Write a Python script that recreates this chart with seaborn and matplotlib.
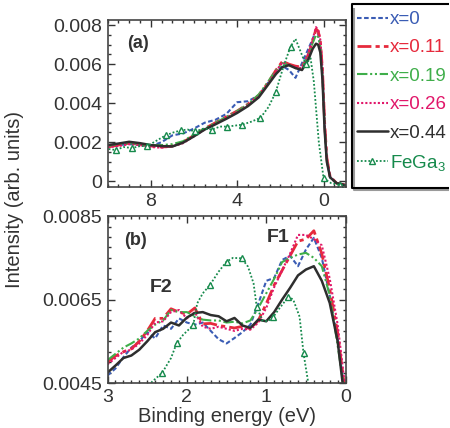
import numpy as np
import matplotlib
matplotlib.use('Agg')
import matplotlib.pyplot as plt
import seaborn as sns
from matplotlib.ticker import MultipleLocator
from matplotlib.lines import Line2D

# ---- data, intensities in units of 1e-3 ----
# panel (a): full valence band
e_a = [10, 9.5, 9, 8.5, 8, 7.5, 7, 6.5, 6, 5.5, 5, 4.5, 4, 3.5, 3, 2.6, 2.2, 1.9, 1.6,
       1.3, 1.0, 0.7, 0.5, 0.35, 0.25, 0.15, 0.05, -0.05, -0.15, -0.3, -0.6, -1.0]
x0_a = [1.8, 1.85, 1.9, 1.85, 1.8, 2.0, 2.35, 2.45, 2.7, 3.0, 3.15, 3.45, 4.05, 4.1, 4.4, 5.0,
        5.6, 5.9, 5.7, 5.3, 6.05, 6.8, 7.3, 7.75, 7.55, 7.0, 5.4, 2.8, 1.1, 0.2, -0.1, -0.2]
x011_a = [1.75, 1.85, 1.95, 1.9, 1.8, 1.75, 1.8, 2.0, 2.35, 2.7, 3.0, 3.3, 3.6, 3.95, 4.4, 5.0,
          5.7, 6.15, 6.0, 5.9, 5.85, 6.5, 7.2, 7.8, 7.7, 7.2, 5.7, 3.0, 1.2, 0.25, -0.1, -0.2]
x019_a = [1.8, 1.9, 1.95, 1.9, 1.85, 1.85, 1.9, 2.05, 2.4, 2.7, 3.0, 3.3, 3.6, 3.95, 4.45, 5.05,
          5.7, 6.05, 5.95, 5.8, 5.8, 6.5, 7.1, 7.5, 7.4, 6.9, 5.4, 2.8, 1.1, 0.2, -0.1, -0.2]
x026_a = [1.75, 1.8, 1.9, 1.85, 1.75, 1.72, 1.78, 1.95, 2.3, 2.65, 2.95, 3.25, 3.55, 3.9, 4.35, 4.95,
          5.65, 6.1, 5.95, 5.85, 5.8, 6.55, 7.3, 7.9, 7.75, 7.25, 5.8, 3.0, 1.2, 0.25, -0.1, -0.2]
x044_a = [1.85, 1.93, 2.02, 1.95, 1.85, 1.8, 1.78, 1.98, 2.3, 2.65, 2.92, 3.2, 3.5, 3.85, 4.3, 4.9,
          5.5, 5.85, 5.95, 5.8, 5.7, 6.25, 6.8, 7.05, 7.0, 6.6, 5.2, 2.6, 1.0, 0.2, -0.1, -0.2]
e_fega_a = [9.95, 9.63, 9.25, 8.86, 8.5, 8.16, 7.7, 7.31, 6.95, 6.62, 6.3, 5.93, 5.55, 5.15, 4.8,
            4.46, 4.1, 3.76, 3.35, 2.92, 2.55, 2.22, 1.85, 1.53, 1.3, 0.83, 0.6, 0.45, 0.22, 0.0,
            -0.35, -0.75, -1.0]
fega_a = [1.65, 1.6, 1.75, 1.7, 1.8, 1.8, 2.1, 2.35, 2.5, 2.6, 2.65, 2.55, 2.7, 2.65, 2.8,
          2.8, 2.85, 2.9, 3.05, 3.25, 3.8, 4.55, 5.9, 6.9, 7.3, 6.0, 6.3, 5.1, 2.0, 0.15,
          -0.1, -0.2, -0.2]
fega_a_marks = [1, 3, 5, 7, 9, 11, 13, 15, 17, 19, 21, 23, 25, 29, 31]

# panel (b): near the Fermi level
e_b = [3.0, 2.9, 2.8, 2.7, 2.6, 2.5, 2.4, 2.3, 2.2, 2.1, 2.0, 1.9, 1.8, 1.7, 1.6, 1.5,
       1.4, 1.3, 1.2, 1.1, 1.0, 0.9, 0.8, 0.7, 0.6, 0.5, 0.4, 0.3, 0.2, 0.1, 0.0]
x0_b = [4.68, 4.85, 5.12, 5.35, 5.5, 5.72, 5.57, 5.88, 5.8, 6.05, 5.95, 5.9, 5.95, 5.75, 5.55, 5.45,
        5.58, 5.72, 5.9, 6.4, 6.95, 7.02, 7.45, 7.55, 7.3, 7.7, 7.98, 7.5, 6.6, 5.55, 4.1]
x011_b = [5.0, 5.15, 5.25, 5.32, 5.5, 5.75, 6.05, 6.05, 6.28, 6.2, 6.15, 6.3, 5.92, 5.93, 5.88, 5.85,
          5.82, 5.86, 5.8, 6.0, 6.4, 6.85, 7.2, 7.55, 7.9, 7.95, 8.15, 7.6, 6.75, 5.7, 4.2]
x019_b = [5.05, 5.2, 5.35, 5.45, 5.57, 5.75, 5.9, 6.0, 6.25, 6.2, 6.2, 6.1, 6.02, 6.0, 6.0, 5.95,
          5.97, 5.93, 6.0, 6.3, 6.65, 7.0, 7.4, 7.5, 7.58, 7.62, 7.5, 7.3, 6.6, 5.4, 4.1]
x026_b = [4.95, 5.1, 5.25, 5.3, 5.45, 5.65, 5.95, 5.98, 6.2, 6.25, 6.05, 6.2, 5.85, 5.8, 5.85, 5.8,
          5.75, 5.8, 5.78, 5.95, 6.3, 6.8, 7.2, 7.6, 8.05, 8.05, 7.95, 7.8, 7.0, 5.9, 4.3]
x044_b = [4.75, 4.92, 5.1, 5.16, 5.3, 5.5, 5.72, 5.8, 5.95, 5.88, 6.07, 6.18, 6.2, 6.13, 6.1, 5.98,
          6.06, 5.88, 5.82, 6.02, 5.98, 6.2, 6.5, 6.78, 7.08, 7.22, 7.3, 6.95, 6.42, 5.5, 3.9]
e_fega_b = [2.55, 2.44, 2.31, 2.2, 2.13, 2.05, 1.92, 1.87, 1.8, 1.71, 1.6, 1.5, 1.42, 1.31,
            1.23, 1.16, 1.12, 1.05, 0.98, 0.91, 0.83, 0.72, 0.66, 0.58, 0.53, 0.47, 0.42]
fega_b = [4.2, 4.53, 4.75, 5.1, 5.45, 5.65, 5.89, 6.41, 6.65, 6.85, 7.17, 7.41, 7.5, 7.49,
          7.29, 6.89, 6.33, 6.0, 5.98, 6.09, 6.3, 6.57, 6.5, 6.09, 5.21, 4.5, 3.8]
fega_b_marks = [2, 4, 6, 9, 11, 13, 16, 19, 21, 24]

labels = ['x=0', 'x=0.11', 'x=0.19', 'x=0.26', 'x=0.44', 'FeGa$_3$']
colors = ['#3a5cb4', '#e62a3c', '#3fae4a', '#e1176a', '#2e2e2e', '#168a4c']
styles = [(0, (2.2, 1.2)), (0, (5, 1.5, 1.5, 1.5)), (0, (5, 1.3, 1, 1.3, 1, 1.3)),
          (0, (1, 1)), '-', (0, (1, 1.1))]
widths = [1.5, 2.0, 1.5, 1.5, 1.8, 1.3]

sns.set_theme(style='ticks')
plt.rcParams['font.family'] = ['Liberation Sans', 'DejaVu Sans']
plt.rcParams['mathtext.default'] = 'regular'
grey = '#333333'
for k in ['text.color', 'axes.labelcolor', 'xtick.color', 'ytick.color', 'axes.edgecolor']:
    plt.rcParams[k] = grey

fig = plt.figure(figsize=(4.5, 4.28), dpi=100)
ax_a = fig.add_axes([0.239, 0.563, 0.529, 0.39])
ax_b = fig.add_axes([0.239, 0.105, 0.529, 0.39])

series_a = [x0_a, x011_a, x019_a, x026_a, x044_a]
series_b = [x0_b, x011_b, x019_b, x026_b, x044_b]

for i in range(5):
    sns.lineplot(x=e_a, y=np.array(series_a[i]) * 1e-3, ax=ax_a, color=colors[i], linestyle=styles[i],
                 linewidth=widths[i], sort=False, estimator=None, legend=False, label=labels[i])
    sns.lineplot(x=e_b, y=np.array(series_b[i]) * 1e-3, ax=ax_b, color=colors[i], linestyle=styles[i],
                 linewidth=widths[i], sort=False, estimator=None, legend=False)

mk = dict(marker='^', markersize=5, markerfacecolor='white', markeredgecolor=colors[5], markeredgewidth=1)
sns.lineplot(x=e_fega_a, y=np.array(fega_a) * 1e-3, ax=ax_a, color=colors[5], linestyle=styles[5],
             linewidth=widths[5], sort=False, estimator=None, legend=False, label=labels[5],
             markevery=fega_a_marks, **mk)
sns.lineplot(x=e_fega_b, y=np.array(fega_b) * 1e-3, ax=ax_b, color=colors[5], linestyle=styles[5],
             linewidth=widths[5], sort=False, estimator=None, legend=False,
             markevery=fega_b_marks, **mk)

# axes (a)
ax_a.set_xlim(10, -1.02)
ax_a.set_ylim(-0.0003, 0.00826)
ax_a.set_xticks([8, 4, 0], ['8', '4', '0'])
ax_a.xaxis.set_minor_locator(MultipleLocator(0.5))
ax_a.set_yticks([0, 0.002, 0.004, 0.006, 0.008], ['0', '0.002', '0.004', '0.006', '0.008'])
ax_a.yaxis.set_minor_locator(MultipleLocator(0.0005))
ax_a.text(0.127, 0.862, '(a)', transform=ax_a.transAxes, fontsize=13, fontweight='bold',
          ha='center', va='center')

# axes (b)
ax_b.set_xlim(3, 0)
ax_b.set_ylim(0.0045, 0.0085)
ax_b.set_xticks([3, 2, 1, 0], ['3', '2', '1', '0'])
ax_b.xaxis.set_minor_locator(MultipleLocator(0.1))
ax_b.set_yticks([0.0045, 0.0065, 0.0085], ['0.0045', '0.0065', '0.0085'])
ax_b.yaxis.set_minor_locator(MultipleLocator(0.00025))
ax_b.text(0.117, 0.856, '(b)', transform=ax_b.transAxes, fontsize=13, fontweight='bold',
          ha='center', va='center')
ax_b.text(2.33, 0.00678, 'F2', fontsize=14, fontweight='bold', ha='center', va='center')
ax_b.text(0.85, 0.0080, 'F1', fontsize=14, fontweight='bold', ha='center', va='center')
ax_b.set_xlabel('Binding energy (eV)', fontsize=14.5, labelpad=1)

for ax in (ax_a, ax_b):
    ax.set_ylabel('')
    ax.tick_params(which='both', direction='in', top=True, right=True, labelsize=14, width=1)
    ax.tick_params(which='major', length=5, pad=4)
    ax.tick_params(which='minor', length=2.5)
    for s in ax.spines.values():
        s.set_linewidth(1.2)
        s.set_color('#444444')

fig.text(0.033, 0.535, 'Intensity (arb. units)', rotation=90, fontsize=14.5, ha='center', va='center')

# legend box: black top/left/bottom border with a thin grey shadow underneath,
# open on the right because it runs off the figure edge
W, H = 450.0, 428.0
fig.add_artist(Line2D([354 / W, 354 / W, 449 / W], [1 - 8 / H, 1 - 190.5 / H, 1 - 190.5 / H],
                      transform=fig.transFigure, color='#9a9a9a', linewidth=1.5, zorder=4,
                      solid_capstyle='butt'))
fig.add_artist(Line2D([449 / W, 352 / W, 352 / W, 449 / W], [1 - 4 / H, 1 - 4 / H, 1 - 188 / H, 1 - 188 / H],
                      transform=fig.transFigure, color='black', linewidth=1.5, zorder=4.5,
                      solid_capstyle='butt'))

h, l = ax_a.get_legend_handles_labels()
leg = fig.legend(h, l, loc='upper left', bbox_to_anchor=(357 / W, 1 - 11 / H), borderaxespad=0,
                 fontsize=13.5, handlelength=1.65, handletextpad=0.12, labelspacing=0.6, borderpad=0,
                 frameon=False, labelcolor='linecolor')
leg.set_zorder(5)

fig.savefig('out.png', dpi=100)
